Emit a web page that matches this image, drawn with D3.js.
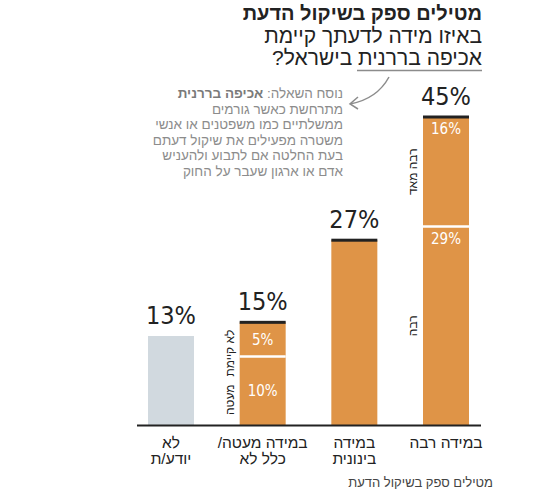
<!DOCTYPE html>
<html>
<head>
<meta charset="utf-8">
<script src="https://cdn.jsdelivr.net/npm/d3@7"></script>
<style>
  body { margin: 0; background: #fff; }
  svg { display: block; }
  .heb { font-family: "Liberation Sans", Arial, sans-serif; }
  .num { font-family: "Liberation Sans Narrow", "DejaVu Sans Condensed", "Liberation Sans", sans-serif; font-stretch: condensed; }
</style>
</head>
<body>
<div id="chart"></div>
<script>
// chart values
var categories = ["במידה רבה", "במידה בינונית", "במידה מעטה/ כלל לא", "לא יודע/ת"];
var categoryLines = [["במידה רבה"], ["במידה", "בינונית"], ["במידה מעטה/", "כלל לא"], ["לא", "יודע/ת"]];
var totals = [45, 27, 15, 13];
// segments from bottom to top
var segmentValues = [[29, 16], [27], [10, 5], [13]];
var segmentNames = [["רבה", "רבה מאד"], [""], ["מעטה", "לא קיימת"], [""]];

var title = "מטילים ספק בשיקול הדעת";
var subtitle = ["באיזו מידה לדעתך קיימת", "אכיפה בררנית בישראל?"];
var noteLead = "נוסח השאלה: ";
var noteBold = "אכיפה בררנית";
var noteLines = ["מתרחשת כאשר גורמים", "ממשלתיים כמו משפטנים או אנשי",
  "משטרה מפעילים את שיקול דעתם", "בעת החלטה אם לתבוע ולהעניש", "אדם או ארגון שעבר על החוק"];
var footer = "מטילים ספק בשיקול הדעת";

var W = 544, H = 500;
var orange = "#df9447", grey = "#d1d9df", ink = "#222";

var svg = d3.select("#chart").append("svg")
  .attr("width", W).attr("height", H);

var x = d3.scalePoint().domain(categories).range([446, 171]);
var y = d3.scaleLinear().domain([0, 45]).range([425, 117]);
var barW = 46;

// title block
svg.append("text").attr("class", "heb")
  .attr("x", 482).attr("y", 20)
  .attr("direction", "rtl")
  .style("font-size", "20px").style("font-weight", "bold").style("fill", ink)
  .text(title);

svg.selectAll(".sub").data(subtitle).enter().append("text")
  .attr("class", "heb sub")
  .attr("x", 482).attr("y", function(d, i) { return 43 + i * 22; })
  .attr("direction", "rtl")
  .style("font-size", "21px").style("fill", ink)
  .text(function(d) { return d; });

svg.append("line")
  .attr("x1", 357).attr("x2", 482).attr("y1", 70.5).attr("y2", 70.5)
  .style("stroke", "#8c8c8c").style("stroke-width", 1.5);

// arrow
var p = d3.path();
p.moveTo(389, 77);
p.quadraticCurveTo(377, 99, 350, 104);
svg.append("path").attr("d", p.toString())
  .style("fill", "none").style("stroke", "#8c8c8c").style("stroke-width", 1.5);
svg.append("path").attr("d", "M358,97 L350,104 L358,109")
  .style("fill", "none").style("stroke", "#8c8c8c").style("stroke-width", 1.5);

// note
var note = svg.append("g").attr("class", "heb")
  .style("font-size", "13.5px").style("fill", "#8c8c8c");
var first = note.append("text").attr("x", 343).attr("y", 98).attr("direction", "rtl");
first.append("tspan").text(noteLead);
first.append("tspan").style("font-weight", "bold").style("fill", "#7a7a7a").text(noteBold);
note.selectAll(".nl").data(noteLines).enter().append("text")
  .attr("class", "nl")
  .attr("x", 343).attr("y", function(d, i) { return 114 + i * 15.4; })
  .attr("direction", "rtl")
  .text(function(d) { return d; });

// bars
var bars = svg.selectAll(".bar").data(categories).enter().append("g")
  .attr("class", "bar");

bars.each(function(cat, i) {
  var g = d3.select(this);
  var x0 = x(cat) - barW / 2;
  var isOther = i === categories.length - 1;
  var cum = 0;
  var segs = segmentValues[i].map(function(v, j) {
    var s = {v: v, lo: cum, hi: cum + v, name: segmentNames[i][j]};
    cum += v;
    return s;
  });

  g.selectAll("rect.seg").data(segs).enter().append("rect")
    .attr("class", "seg")
    .attr("x", x0).attr("width", barW)
    .attr("y", function(s) { return y(s.hi); })
    .attr("height", function(s) { return y(s.lo) - y(s.hi); })
    .style("fill", isOther ? grey : orange);

  // white separators between segments
  g.selectAll("line.sep").data(segs.slice(1)).enter().append("line")
    .attr("class", "sep")
    .attr("x1", x0).attr("x2", x0 + barW)
    .attr("y1", function(s) { return y(s.lo); })
    .attr("y2", function(s) { return y(s.lo); })
    .style("stroke", "#fff").style("stroke-width", 2.5);

  if (!isOther) {
    g.append("rect")
      .attr("x", x0).attr("width", barW)
      .attr("y", y(totals[i]) - 1.5).attr("height", 3)
      .style("fill", ink);
  }

  g.append("text").attr("class", "num")
    .attr("x", x(cat)).attr("y", y(totals[i]) - 12)
    .attr("text-anchor", "middle")
    .style("font-size", "25px").style("fill", ink)
    .text(totals[i] + "%");

  if (segs.length > 1) {
    var tall = (y(0) - y(totals[i])) > 150;
    g.selectAll("text.sv").data(segs).enter().append("text")
      .attr("class", "num sv")
      .attr("x", x(cat))
      .attr("y", function(s) {
        var top = y(s.hi), bot = y(s.lo);
        return tall ? top + 17 : (top + bot) / 2 + 5.5;
      })
      .attr("text-anchor", "middle")
      .style("font-size", "15px").style("fill", "#fff")
      .text(function(s) { return s.v + "%"; });

    // rotated segment names to the left of the bar
    var lx = x0 - 6;
    var names = g.selectAll("text.sn").data(segs).enter().append("text")
      .attr("class", "heb sn")
      .attr("direction", "rtl")
      .attr("text-anchor", "middle")
      .style("font-size", "12px").style("fill", ink)
      .text(function(s) { return s.name; });
    var edge = y(0) - 10;
    names.each(function(s) {
      var len = this.getComputedTextLength();
      var cy;
      if (tall) {
        cy = (y(s.hi) + y(s.lo)) / 2;
      } else {
        cy = edge - len / 2;
        edge = edge - len - 8;
      }
      d3.select(this).attr("transform", "translate(" + lx + "," + cy + ") rotate(-90)");
    });
  }
});

// baseline
svg.append("line")
  .attr("x1", 137).attr("x2", 481).attr("y1", 425.5).attr("y2", 425.5)
  .style("stroke", ink).style("stroke-width", 2);

// category labels
svg.selectAll(".cat").data(categories).enter().append("text")
  .attr("class", "heb cat")
  .attr("text-anchor", "middle")
  .attr("direction", "rtl")
  .style("font-size", "15.5px").style("fill", ink)
  .each(function(cat, i) {
    d3.select(this).selectAll("tspan").data(categoryLines[i]).enter().append("tspan")
      .attr("x", x(cat))
      .attr("y", function(d, k) { return 448 + k * 16; })
      .text(function(d) { return d; });
  });

svg.append("text").attr("class", "heb")
  .attr("x", 493).attr("y", 487)
  .attr("direction", "rtl")
  .style("font-size", "13px").style("fill", "#444")
  .text(footer);
</script>
</body>
</html>
